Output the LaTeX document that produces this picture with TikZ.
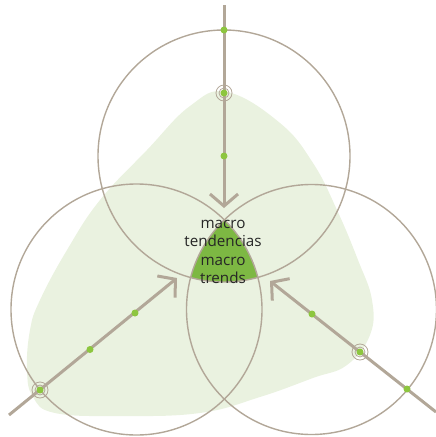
\documentclass[tikz,border=0pt]{standalone}
\usepackage{fontspec}
\setmainfont{Open Sans}
\usetikzlibrary{arrows.meta}
\tikzset{>={Straight Barb[length=12pt,width=28pt]}}
\usepackage[svgnames]{xcolor}
\definecolor{taupe}{HTML}{B2A798}
\definecolor{hoja}{HTML}{8DC63F}
\definecolor{musgo}{HTML}{7DB843}
\definecolor{palido}{HTML}{EAF2E0}

\begin{document}
\begin{tikzpicture}[x=1pt,y=-1pt,
  eje/.style={draw=taupe, line width=3pt},
  aro/.style={draw=taupe, line width=1.4pt},
  anillo/.style={draw=taupe, line width=0.8pt},
  punto/.style={fill=hoja},
  lbl/.style={align=center, text=black!85, inner sep=0pt,
    font=\fontsize{15.2}{18.6}\selectfont}]
  \useasboundingbox (0,0) rectangle (436,437);

  % 坐标点定义
  \coordinate (T) at (224,156);
  \coordinate (L) at (136.5,309.5);
  \coordinate (R) at (311.5,309.5);
  \coordinate (T_0) at (224,5);
  \coordinate (T_1) at (224,30);
  \coordinate (T_2) at (224,93);
  \coordinate (T_3) at (224,208);
  \coordinate (L_0) at (9,415);
  \coordinate (L_1) at (40,390);
  \coordinate (L_2) at (90,349.5);
  \coordinate (L_c) at (135,313);
  \coordinate (L_3) at (177,278);
  \coordinate (R_0) at (436,412);
  \coordinate (R_1) at (407,389);
  \coordinate (R_2) at (360,352);
  \coordinate (R_c) at (312,314);
  \coordinate (R_3) at (270,281);

  % 背景
  \fill[palido] plot[smooth cycle, tension=0.7] coordinates {
    (227,92) (280,123) (313,163) (337,210) (358,260) (372,300)
    (370,335) (347,365) (313,378) (260,397) (200,413) (120,416)
    (55,413) (33,397) (27,370) (30,330) (40,300) (67,250)
    (100,200) (147,150) (190,106)};

  % 交集
  \begin{scope}
    \clip (T) circle (126pt);
    \clip (L) circle (125.5pt);
    \fill[musgo] (R) circle (125pt);
  \end{scope}

  % 圆
  \draw[aro] (T) circle (126pt);
  \draw[aro] (L) circle (125.5pt);
  \draw[aro] (R) circle (125pt);

  % 箭头
  \draw[eje, ->] (T_0) -- (T_3);
  \draw[eje, ->] (L_0) -- (L_3);
  \draw[eje, ->] (R_0) -- (R_3);

  % 点标记
  \draw[anillo] (T_2) circle (5pt) (T_2) circle (8pt);
  \draw[anillo] (L_1) circle (5pt) (L_1) circle (8pt);
  \draw[anillo] (R_2) circle (5pt) (R_2) circle (8pt);
  \foreach \p in {T_1,T_2,T,L_1,L_2,L_c,R_1,R_2,R_c}
    \fill[punto] (\p) circle (3.5pt);

  % 文本标签
  \node[lbl] (titulo) at (223,252) {macro\\tendencias\\macro\\trends};
\end{tikzpicture}
\end{document}
